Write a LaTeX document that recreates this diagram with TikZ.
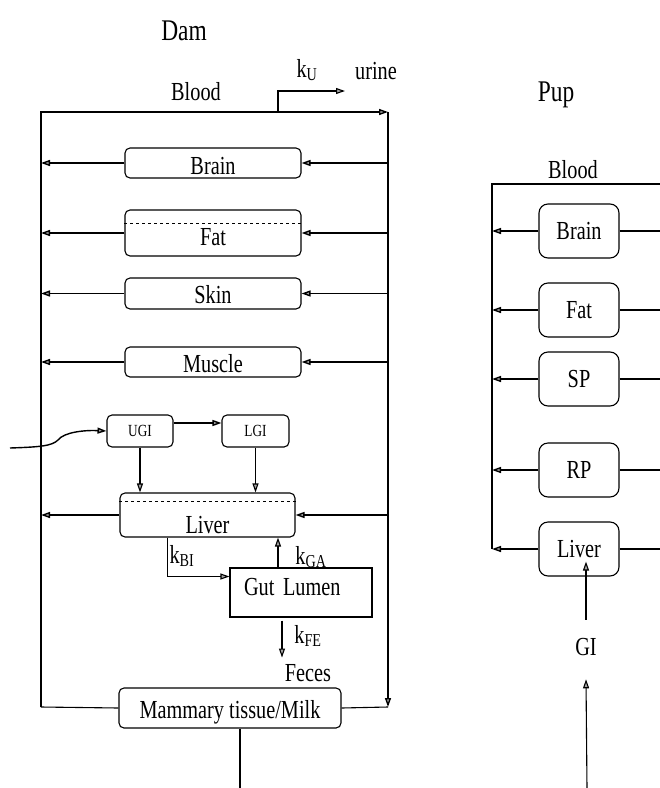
\documentclass[tikz,border=0pt]{standalone}
\usepackage{fontspec}
\setmainfont[FakeStretch=0.78]{Liberation Serif}
\usetikzlibrary{arrows.meta}

\tikzset{
  organ/.style={draw,rounded corners=5pt,inner sep=0pt,line width=1.1pt},
  pupbox/.style={draw,rounded corners=9pt,minimum width=80pt,minimum height=54pt,line width=1.1pt},
  flow/.style={line width=1.4pt,-{Triangle[length=9pt,width=6pt,fill=gray!70]}},
  thinflow/.style={line width=1.1pt,-{Triangle[length=9pt,width=6pt,fill=gray!70]}},
  wire/.style={line width=1.1pt},
}

\begin{document}
\begin{tikzpicture}[x=1pt,y=-1pt,font=\fontsize{26}{28}\selectfont]
\useasboundingbox (0,0) rectangle (660,788);
% --- Dam ---
\node (damTitle) at (184,31) {\fontsize{30}{32}\selectfont Dam};
\node (damBlood) at (196,92) {Blood};
\node (kU) at (307,70) {k\textsubscript{U}};
\node (urine) at (376,71) {urine};
\coordinate (tl) at (41,112); \coordinate (tr) at (388,112);
\coordinate (bl) at (41,707); \coordinate (br) at (388,707);
\coordinate (kUfoot) at (278,112); \coordinate (kUend) at (345,91);

\foreach \name/\txt/\y/\h/\d in {damBrain/Brain/163/26/4,damFat/Fat/233/35/11,damSkin/Skin/293.5/25/6,damMuscle/Muscle/362/25/5}{
  \node[organ,minimum width=176pt,text height=\h pt,text depth=\d pt] (\name) at (213,\y) {\txt};
}
\node[organ,minimum width=66pt,minimum height=32pt,font=\fontsize{17}{19}\selectfont] (damUGI) at (140,431) {UGI};
\node[organ,minimum width=67pt,minimum height=32pt,font=\fontsize{17}{19}\selectfont] (damLGI) at (255.5,431) {LGI};
\node[organ,minimum width=175pt,text height=40pt,text depth=4pt] (damLiver) at (207.5,515) {Liver};
\node[draw,line width=1.1pt,inner ysep=0pt,inner xsep=14pt,text width=114pt,align=left,text height=27pt,text depth=22pt] (damGut) at (301,592.5) {Gut Lumen};
\node[organ,minimum width=222pt,text height=30pt,text depth=10pt] (damMammary) at (230,708) {Mammary tissue/Milk};

\draw[wire,dashed] ([yshift=-14pt]damFat.north west) -- ([yshift=-14pt]damFat.north east);
\draw[wire,dashed] ([yshift=-9pt]damLiver.north west) -- ([yshift=-9pt]damLiver.north east);

% blood loop
\draw[flow] (bl) -- (tl) -- (tr);
\draw[flow] (tr) -- (br);
\draw[wire] (br) -- (damMammary.east);
\draw[wire] (damMammary.west) -- (bl);
\draw[thinflow] (kUfoot) |- (kUend);
\foreach \o in {damBrain,damFat,damSkin,damMuscle,damLiver}{
  \draw[flow] (\o.east -| tr) -- (\o.east);
  \draw[flow] (\o.west) -- (\o.west -| tl);
}

% oral dose and gut
\coordinate (doseIn) at (10,448);
\draw[flow] (doseIn) .. controls (40,447) and (52,446) .. (58,440) .. controls (64,432) and (85,430) .. (damUGI.west);
\draw[flow] ([yshift=8pt]damUGI.east) -- ([yshift=8pt]damLGI.west);
\draw[thinflow] (damUGI.south) -- (damUGI.south |- damLiver.north);
\draw[thinflow] (damLGI.south) -- (damLGI.south |- damLiver.north);
\draw[thinflow] ([xshift=-40pt]damLiver.south) |- ([yshift=16pt]damGut.west);
\draw[thinflow] ([xshift=-23pt]damGut.north) -- ([xshift=-23pt]damGut.north |- damLiver.south);
\node (kBI) at (182,556) {k\textsubscript{BI}};
\node (kGA) at (311,557) {k\textsubscript{GA}};
\node (feces) at (308,673) {Feces};
\node (kFE) at (308,636) {k\textsubscript{FE}};
\draw[thinflow] ([xshift=-19pt,yshift=-3pt]damGut.south) -- ([xshift=-19pt,yshift=-40pt]damGut.south);

\coordinate (milkOut) at (240,788);
\draw[wire] ([xshift=10pt]damMammary.south) -- (milkOut);

% --- Pup ---
\node (pupTitle) at (556,95) {\fontsize{30}{32}\selectfont Pup};
\node (pupBlood) at (573,170) {Blood};
\coordinate (ptl) at (492,184); \coordinate (ptr) at (660,184);
\foreach \name/\txt/\y in {pupBrain/Brain/231,pupFat/Fat/310,pupSP/SP/379,pupRP/RP/470,pupLiver/Liver/549}{
  \node[pupbox] (\name) at (579,\y) {\txt};
  \draw[flow] (\name.west) -- (\name.west -| ptl);
  \draw[wire] (\name.east) -- (\name.east -| ptr);
}
\draw[wire] (ptr) -- (ptl) -- (pupLiver.west -| ptl);
\node (pupGI) at (586,647) {GI};
\draw[thinflow] ([yshift=15pt]pupGI.north) -- ([yshift=15pt]pupGI.north |- pupLiver.south);
\coordinate (pupIn) at (587,788);
\draw[thinflow] (pupIn) -- ([yshift=-20pt]pupGI.south);
\end{tikzpicture}
\end{document}
